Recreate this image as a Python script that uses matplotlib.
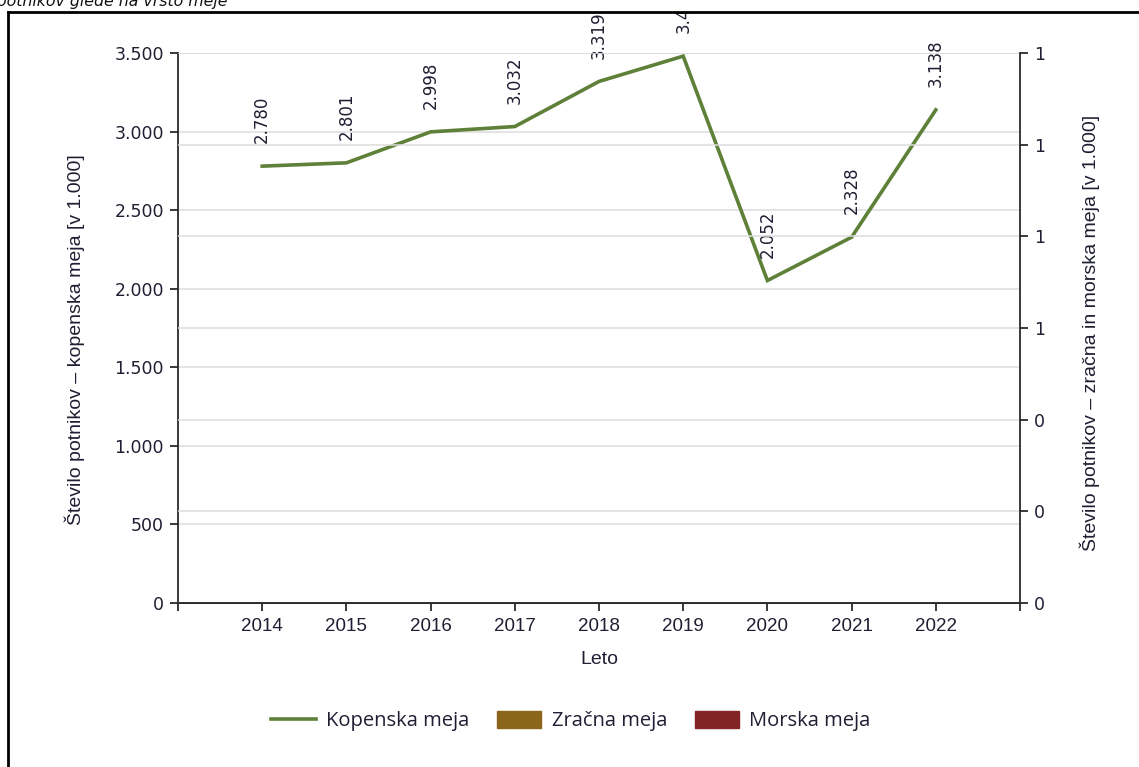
import matplotlib
matplotlib.use("Agg")
import matplotlib.pyplot as plt
from matplotlib.lines import Line2D
from matplotlib.patches import Patch, Rectangle
from matplotlib.ticker import FixedLocator, FuncFormatter
from matplotlib import font_manager

years = [2014, 2015, 2016, 2017, 2018, 2019, 2020, 2021, 2022]
kopenska = [2780, 2801, 2998, 3032, 3319, 3480, 2052, 2328, 3138]
left_ticks = [0, 500, 1000, 1500, 2000, 2500, 3000, 3500]
right_ticks = [0, 0.2, 0.4, 0.6, 0.8, 1.0, 1.2]
series_names = ["Kopenska meja", "Zračna meja", "Morska meja"]
title = "Število potnikov glede na vrsto meje"
ylabel_left = "Število potnikov – kopenska meja [v 1.000]"
ylabel_right = "Število potnikov – zračna in morska meja [v 1.000]"
xlabel = "Leto"

names = {f.name for f in font_manager.fontManager.ttflist}
narrow = "Liberation Sans Narrow" if "Liberation Sans Narrow" in names else "Liberation Sans"

GREEN = "#5E8038"
BROWN = "#8B6519"
RED = "#822426"
GRID = "#DCDCDC"
AX = "#2A2A2A"
TXT = "#1F1F33"

W, H = 1139, 767
fig = plt.figure(figsize=(W / 100, H / 100), dpi=100)
L, R, T, B = 178, 1020, 53, 603
ax = fig.add_axes([L / W, 1 - B / H, (R - L) / W, (B - T) / H])
ax2 = ax.twinx()

def fmt_dot(v, pos=None):
    return f"{v:,.0f}".replace(",", ".")

ax.set_xlim(2013, 2023)
ax.set_ylim(0, 3500)
ax2.set_ylim(0, 1.2)

ax.yaxis.set_major_locator(FixedLocator(left_ticks))
ax.yaxis.set_major_formatter(FuncFormatter(fmt_dot))
ax2.yaxis.set_major_locator(FixedLocator(right_ticks))
ax2.yaxis.set_major_formatter(FuncFormatter(lambda v, p: f"{v:.0f}"))
ax.set_xticks(list(range(2013, 2024)))
ax.set_xticklabels([""] + [str(y) for y in years] + [""])

ax.grid(axis="y", color=GRID, linewidth=1.1)
ax2.grid(axis="y", color=GRID, linewidth=1.1)
ax.set_axisbelow(True)
ax2.set_axisbelow(True)

for a in (ax, ax2):
    a.spines["top"].set_visible(False)
    for s in ("left", "right", "bottom"):
        a.spines[s].set_color(AX)
        a.spines[s].set_linewidth(1.3)
    a.tick_params(direction="out", length=6, width=1.3, color=AX)
ax2.spines["left"].set_visible(False)
ax.spines["right"].set_visible(False)

for lab in ax.get_yticklabels() + ax2.get_yticklabels():
    lab.set_fontfamily("DejaVu Sans")
    lab.set_fontsize(12.5)
    lab.set_color(TXT)
for lab in ax.get_xticklabels():
    lab.set_fontfamily(narrow)
    lab.set_fontsize(13.5)
    lab.set_color(TXT)
ax.tick_params(axis="y", pad=4)
ax2.tick_params(axis="y", pad=4)
ax.tick_params(axis="x", pad=5)

ax.plot(years, kopenska, color=GREEN, linewidth=2.6, solid_joinstyle="miter", zorder=3)

frame_top = 1 - 12 / H
clip_rect = Rectangle((0, 0), 1, frame_top, transform=fig.transFigure)
for x, v in zip(years, kopenska):
    t = ax.annotate(fmt_dot(v), (x, v), xytext=(0, 16.5), textcoords="offset points",
                    rotation=90, ha="center", va="bottom", fontsize=12,
                    fontfamily="DejaVu Sans", color=TXT, annotation_clip=False)
    t.set_clip_on(True)
    t.set_clip_path(clip_rect)

ax.set_xlabel(xlabel, fontfamily=narrow, fontsize=14, color=TXT, labelpad=11)
fig.text(75 / W, 1 - 340 / H, ylabel_left, rotation=90, ha="center", va="center",
         fontfamily=narrow, fontsize=14, color=TXT)
fig.text(1090 / W, 1 - 333 / H, ylabel_right, rotation=90, ha="center", va="center",
         fontfamily=narrow, fontsize=14, color=TXT)

handles = [Line2D([0], [0], color=GREEN, linewidth=2.6),
           Patch(facecolor=BROWN, edgecolor=BROWN),
           Patch(facecolor=RED, edgecolor=RED)]
leg = fig.legend(handles, series_names, loc="center", bbox_to_anchor=(571 / W, 1 - 721 / H),
                 ncol=3, frameon=False, handlelength=2.2, handleheight=0.9,
                 columnspacing=1.4, handletextpad=0.5,
                 prop={"family": "Open Sans", "size": 14.5})
for t in leg.get_texts():
    t.set_color(TXT)

fig.text(228 / W, 1 - 6 / H, title, ha="right", va="baseline", style="italic",
         fontfamily="DejaVu Sans", fontsize=11.3, color="#111111")

fig.add_artist(Line2D([8 / W, 8 / W], [0, frame_top], transform=fig.transFigure,
                      color="black", linewidth=2, solid_capstyle="projecting"))
fig.add_artist(Line2D([8 / W, 1.01], [frame_top, frame_top], transform=fig.transFigure,
                      color="black", linewidth=2, solid_capstyle="projecting"))

fig.savefig("out.png", dpi=100)
